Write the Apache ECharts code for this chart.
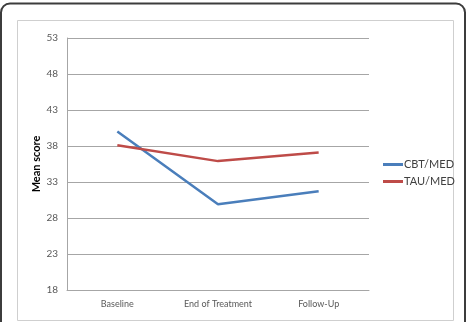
<!DOCTYPE html>
<html>
<head>
<meta charset="utf-8">
<script src="https://cdn.jsdelivr.net/npm/echarts@6/dist/echarts.min.js"></script>
<style>
  html, body { margin: 0; padding: 0; background: #fff; }
  #chart { width: 467px; height: 322px; }
</style>
</head>
<body>
<div id="chart"></div>
<script>
  // time points and mean scores
  const timePoints = ['Baseline', 'End of Treatment', 'Follow-Up']
  const cbtMed = [40.0, 29.9, 31.7]
  const tauMed = [38.1, 35.9, 37.1]
  const yMin = 18
  const yMax = 53
  const yStep = 5

  const labelFont = 'Lato, "Liberation Sans", sans-serif'

  let mychart = echarts.init(document.getElementById('chart'))
  mychart.setOption({
    animation: false,
    backgroundColor: '#fff',
    graphic: [
      {   // outer figure frame, rounded on top
        type: 'rect',
        shape: { x: 1, y: 3.5, width: 464, height: 340, r: [9, 9, 0, 0] },
        style: { fill: 'none', stroke: '#3c3c3c', lineWidth: 2 },
        silent: true
      },
      {   // inner chart border
        type: 'rect',
        shape: { x: 17.5, y: 20.5, width: 436, height: 300 },
        style: { fill: 'none', stroke: '#cfcfcf', lineWidth: 1 },
        silent: true
      }
    ],
    grid: {
      left: 67,
      right: 98,
      top: 38,
      bottom: 32
    },
    legend: {
      orient: 'vertical',
      left: 378,
      top: 154,
      itemWidth: 20,
      itemHeight: 3,
      itemGap: 6,
      icon: 'rect',
      textStyle: {
        fontFamily: labelFont,
        fontSize: 11,
        color: '#404040',
        padding: [0, 0, 0, -4]
      },
      data: ['CBT/MED', 'TAU/MED']
    },
    xAxis: {
      type: 'category',
      data: timePoints,
      boundaryGap: true,
      axisLine: { lineStyle: { color: '#a6a6a6', width: 1 } },
      axisTick: { show: false },
      axisLabel: {
        margin: 10,
        fontFamily: labelFont,
        fontSize: 9,
        color: '#595959'
      }
    },
    yAxis: {
      type: 'value',
      min: yMin,
      max: yMax,
      interval: yStep,
      name: 'Mean score',
      nameLocation: 'middle',
      nameGap: 25,
      nameMoveOverlap: false,
      nameTextStyle: {
        fontFamily: labelFont,
        fontSize: 11,
        fontWeight: 'bold',
        color: '#000'
      },
      axisLine: { show: true, lineStyle: { color: '#a6a6a6', width: 1 } },
      axisTick: { show: false },
      axisLabel: {
        margin: 9,
        fontFamily: labelFont,
        fontSize: 10,
        color: '#595959'
      },
      splitLine: { lineStyle: { color: '#a6a6a6', width: 1 } }
    },
    series: [
      {
        name: 'CBT/MED',
        type: 'line',
        data: cbtMed,
        symbol: 'none',
        color: '#4a7ebb',
        lineStyle: { width: 2.5 }
      },
      {
        name: 'TAU/MED',
        type: 'line',
        data: tauMed,
        symbol: 'none',
        color: '#be4b48',
        lineStyle: { width: 2.5 }
      }
    ]
  })
</script>
</body>
</html>
